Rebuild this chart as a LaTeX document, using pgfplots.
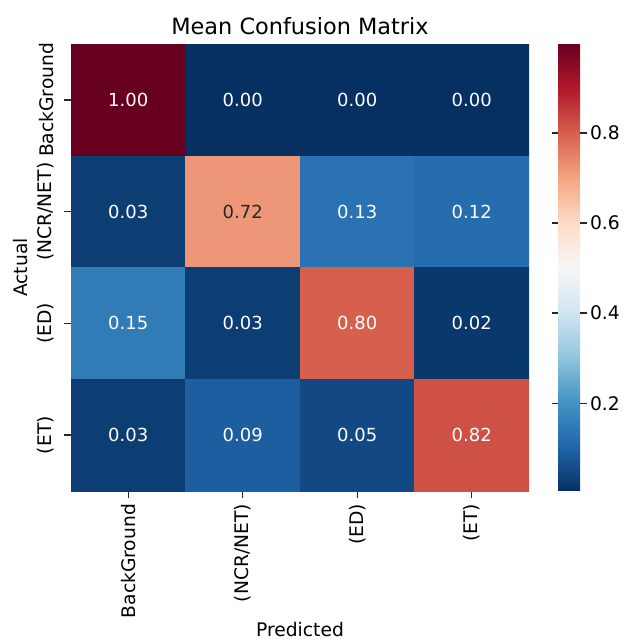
\documentclass[border=0pt]{standalone}
\usepackage{fontspec}
\setmainfont{DejaVu Sans}
\usepackage{pgfplots}
\pgfplotsset{compat=1.18}
\newcommand\tickfont{\fontsize{18.7}{22}\selectfont}
\newcommand\annfont{\fontsize{18}{22}\selectfont}
\newcommand\titlefont{\fontsize{22.4}{26}\selectfont}
\pgfplotsset{colormap={rdbur}{rgb255=(5,48,97) rgb255=(33,102,172) rgb255=(67,147,195) rgb255=(146,197,222) rgb255=(209,229,240) rgb255=(247,247,247) rgb255=(253,219,199) rgb255=(244,165,130) rgb255=(214,96,77) rgb255=(178,24,43) rgb255=(103,0,31)}}
\begin{document}
\begin{tikzpicture}
\path[use as bounding box] (0,0) rectangle (624pt,639pt);
\begin{axis}[
  at={(71pt,148pt)}, anchor=south west,
  scale only axis, width=458pt, height=447pt,
  xmin=-0.5, xmax=3.5, ymin=-0.5, ymax=3.5, y dir=reverse,
  axis line style={draw=none},
  xtick={0,1,2,3}, ytick={0,1,2,3},
  xticklabels={BackGround,(NCR/NET),(ED),(ET)},
  yticklabels={BackGround,(NCR/NET),(ED),(ET)},
  xtick pos=bottom, ytick pos=left, tick align=outside,
  major tick length=6.5pt,
  every tick/.style={black!85, line width=1.4pt},
  xticklabel style={rotate=90, anchor=east, font=\tickfont},
  yticklabel style={rotate=90, anchor=south, font=\tickfont},
  xticklabel shift=3pt,
  yticklabel shift=7pt,
  xlabel={Predicted}, ylabel={Actual},
  xlabel style={font=\tickfont, inner sep=0pt, at={(axis description cs:0.5,-0.3244)}, anchor=base},
  ylabel style={font=\tickfont, at={(axis description cs:-0.096,0.5)}, anchor=base},
  title={Mean Confusion Matrix}, title style={font=\titlefont},
  colormap name=rdbur, point meta min=0.005, point meta max=0.998,
  colorbar,
  colorbar shift/.style={xshift=29pt},
  colorbar/width=22pt,
  colorbar style={
    axis line style={draw=none},
    ytick={0.2,0.4,0.6,0.8},
    tick align=outside, major tick length=6.5pt,
    every tick/.style={black!85, line width=1.4pt},
    yticklabel style={font=\tickfont, /pgf/number format/.cd, fixed, fixed zerofill, precision=1, assume math mode=true},
  },
]
\addplot[matrix plot*, mesh/cols=4, mesh/rows=4, point meta=explicit] table[meta=c] {
x y c
0 0 1.00
1 0 0.00
2 0 0.00
3 0 0.00
0 1 0.03
1 1 0.72
2 1 0.13
3 1 0.12
0 2 0.15
1 2 0.03
2 2 0.80
3 2 0.02
0 3 0.03
1 3 0.09
2 3 0.05
3 3 0.82
};
\addplot[only marks, mark=none, nodes near coords, point meta=explicit symbolic,
  nodes near coords style={anchor=center, text=white, font=\annfont}] table[meta=label] {
x y label
0 0 1.00
1 0 0.00
2 0 0.00
3 0 0.00
0 1 0.03
2 1 0.13
3 1 0.12
0 2 0.15
1 2 0.03
2 2 0.80
3 2 0.02
0 3 0.03
1 3 0.09
2 3 0.05
3 3 0.82
};
\addplot[only marks, mark=none, nodes near coords, point meta=explicit symbolic,
  nodes near coords style={anchor=center, text=black!85, font=\annfont}] table[meta=label] {
x y label
1 1 0.72
};
\end{axis}
\end{tikzpicture}
\end{document}
